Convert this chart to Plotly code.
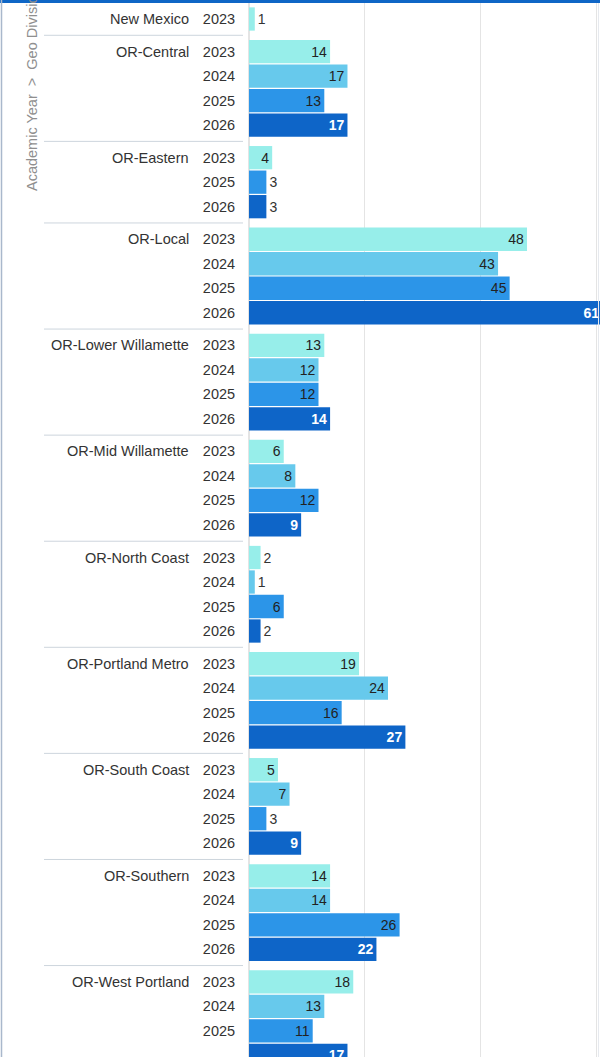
import plotly.graph_objects as go

# Data
divisions = [
    "New Mexico", "OR-Central", "OR-Eastern", "OR-Local", "OR-Lower Willamette",
    "OR-Mid Willamette", "OR-North Coast", "OR-Portland Metro", "OR-South Coast",
    "OR-Southern", "OR-West Portland",
]
years = ["2023", "2024", "2025", "2026"]
v2023 = [1, 14, 4, 48, 13, 6, 2, 19, 5, 14, 18]
v2024 = [None, 17, None, 43, 12, 8, 1, 24, 7, 14, 13]
v2025 = [None, 13, 3, 45, 12, 12, 6, 16, 3, 26, 11]
v2026 = [None, 17, 3, 61, 14, 9, 2, 27, 9, 22, 17]
series = [v2023, v2024, v2025, v2026]

colors = ["#97eeea", "#67c9ec", "#2c95e8", "#0e65c8"]
inside_colors = ["#222222", "#222222", "#222222", "#ffffff"]

W, H = 600, 1057
PLOT_LEFT = 249
PLOT_W = W - PLOT_LEFT
GROUP_GAP = 0.33


def px_x(px):
    """Pixel x -> paper x (relative to plot domain)."""
    return (px - PLOT_LEFT) / PLOT_W


# lay out rows: one row per (division, year) present, small gap between divisions
rows = {y: ([], []) for y in years}
tickvals, ticktext = [], []
group_first, dividers = [], []
pos = 0.0
for gi, div in enumerate(divisions):
    if gi > 0:
        dividers.append(pos - 0.5 + GROUP_GAP / 2)
        pos += GROUP_GAP
    group_first.append(pos)
    for yi, yr in enumerate(years):
        v = series[yi][gi]
        if v is None:
            continue
        rows[yr][0].append(pos)
        rows[yr][1].append(v)
        tickvals.append(pos)
        ticktext.append(yr)
        pos += 1

fig = go.Figure()
for yi, yr in enumerate(years):
    ys, xs = rows[yr]
    fig.add_trace(go.Bar(
        x=xs, y=ys, orientation="h", width=0.95,
        marker=dict(color=colors[yi], line=dict(width=0)),
        text=[str(v) for v in xs],
        textposition=["inside" if v >= 4 else "outside" for v in xs],
        insidetextanchor="end",
        insidetextfont=dict(color=inside_colors[yi], size=14,
                            weight="bold" if yi == 3 else "normal"),
        outsidetextfont=dict(color="#333333", size=14),
        name=yr, showlegend=False,
    ))

shapes = []
for d in dividers:
    shapes.append(dict(type="line", xref="paper", yref="y",
                       x0=px_x(44), x1=px_x(243), y0=d, y1=d,
                       line=dict(color="#cdd5dd", width=1)))
# panel frame bits
shapes.append(dict(type="rect", xref="paper", yref="paper",
                   x0=px_x(0), x1=px_x(W), y0=1 - 3 / H, y1=1,
                   fillcolor="#0f66c6", line=dict(width=0)))
shapes.append(dict(type="line", xref="paper", yref="paper",
                   x0=px_x(1.5), x1=px_x(1.5), y0=0, y1=1,
                   line=dict(color="#a9b8cc", width=1.5)))
shapes.append(dict(type="line", xref="paper", yref="paper",
                   x0=px_x(598.5), x1=px_x(598.5), y0=0, y1=1 - 3 / H,
                   line=dict(color="#e6e9ee", width=1)))

annotations = []
for gi, div in enumerate(divisions):
    annotations.append(dict(text=div, xref="paper", yref="y",
                            x=px_x(191), y=group_first[gi],
                            xanchor="right", yanchor="middle", showarrow=False,
                            font=dict(size=14.5, color="#333333")))
annotations.append(dict(text="Academic Year  >  Geo Division", textangle=-90,
                        xref="paper", yref="paper", x=px_x(32), y=1 - 193 / H,
                        xanchor="center", yanchor="bottom", showarrow=False,
                        font=dict(size=14.5, color="#8f8f8f")))

top_px = 19  # pixel centre of first row
ppu = 24.5
y_top = -top_px / ppu
y_bottom = (H - top_px) / ppu

fig.update_layout(
    width=W, height=H,
    margin=dict(l=PLOT_LEFT, r=0, t=0, b=0),
    barmode="overlay",
    plot_bgcolor="white", paper_bgcolor="white",
    font=dict(family="Liberation Sans, Arial, sans-serif", size=14, color="#333333"),
    xaxis=dict(range=[0, 60.6], dtick=20, showticklabels=False, showgrid=True,
               gridcolor="#e4e4e4", gridwidth=1, zeroline=True,
               zerolinecolor="#e4e4e4", showline=False, fixedrange=True),
    yaxis=dict(range=[y_bottom, y_top], tickvals=tickvals, ticktext=ticktext,
               showgrid=False, zeroline=False, ticks="outside", ticklen=10,
               tickcolor="rgba(0,0,0,0)", tickfont=dict(size=14.5, color="#333333"),
               fixedrange=True),
    shapes=shapes,
    annotations=annotations,
    uniformtext=dict(minsize=10),
)

fig.write_html(
    "out.html",
    config={"displayModeBar": False},
    post_script="document.body.style.margin='0';document.body.style.overflow='hidden';",
)
